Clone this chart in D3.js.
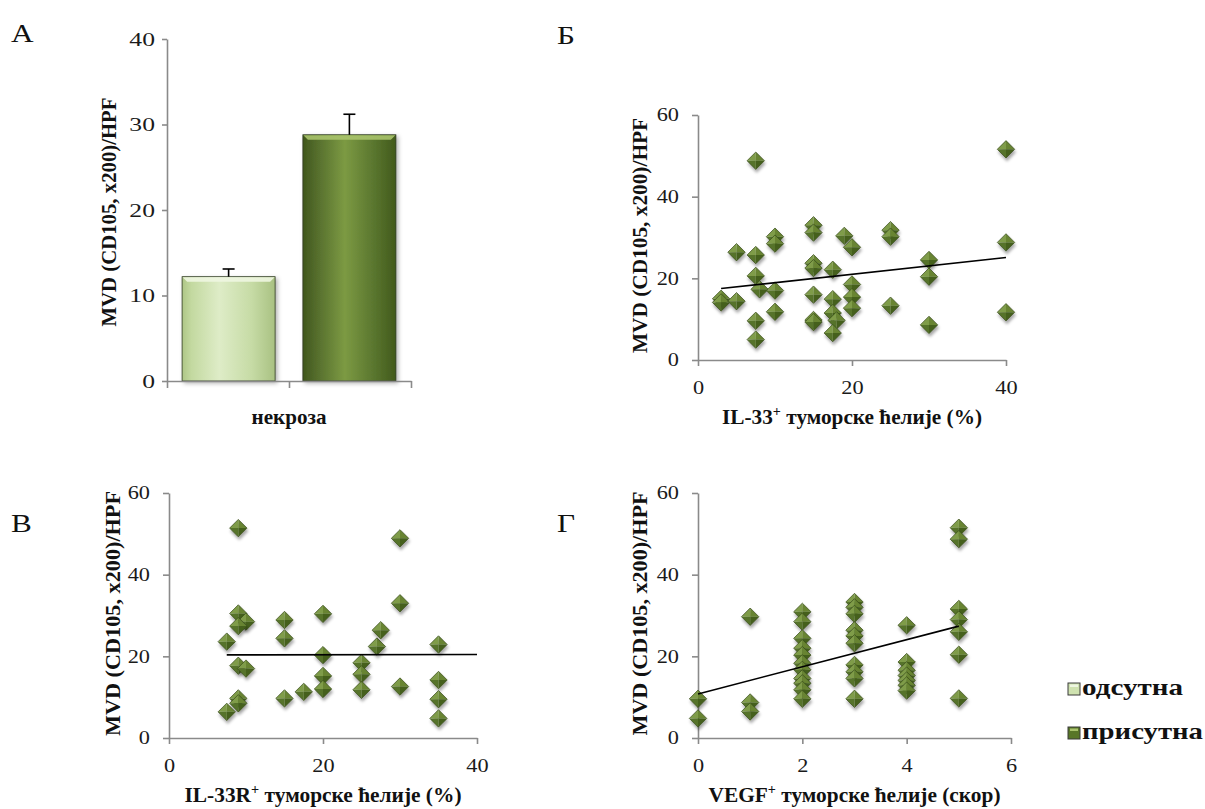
<!DOCTYPE html>
<html>
<head>
<meta charset="utf-8">
<script src="https://cdn.jsdelivr.net/npm/d3@7"></script>
<style>
  body { margin: 0; background: #fff; }
  svg { display: block; font-family: "Liberation Serif", "Times New Roman", serif; }
</style>
</head>
<body>
<svg id="chart" width="1205" height="809"></svg>
<script>
// ---- data ----
const barSeries = ["одсутна", "присутна"]
const barMeans = [12.2, 28.8]
const barErrors = [0.9, 2.4]
const barCategory = "некроза"

// Б: IL-33+ tumour cells (%) vs MVD
const il33Points = [
  [7.5, 48.8], [5, 26.4], [7.5, 25.7], [10, 30.2], [10, 28.5], [15, 33], [15, 31.2], [19, 30.4],
  [20, 27.6], [7.5, 20.6], [8, 17.3], [10, 17], [3, 15], [3, 14.1], [5, 14.4], [7.5, 9.6],
  [7.5, 5], [10, 11.8], [15, 23.7], [15, 22.5], [15, 16], [15, 9.8], [15, 9.3], [17.5, 22.1],
  [17.5, 14.9], [17.5, 11.5], [18, 9.7], [17.5, 6.6], [20, 18.5], [20, 15.4], [20, 12.7],
  [25, 31.8], [25, 30.2], [25, 13.3], [30, 24.5], [30, 20.4], [30, 8.6], [40, 51.6], [40, 28.8], [40, 11.7]
]
const il33Trend = [[3, 17.5], [40, 25.1]]

// В: IL-33R+ tumour cells (%) vs MVD
const il33rPoints = [
  [9, 51.4], [9, 30.5], [10, 28.5], [9, 27.4], [7.5, 23.6], [9, 17.7], [10, 17], [9, 9.7], [9, 8.5],
  [7.5, 6.4], [15, 28.9], [15, 24.4], [15, 9.7], [17.5, 11.3], [20, 30.4], [20, 20.3], [20, 15.2],
  [20, 12], [25, 18.4], [25, 15.6], [25, 11.8], [27, 22.4], [27.5, 26.4], [30, 48.9], [30, 33],
  [30, 12.6], [35, 22.9], [35, 14.2], [35, 9.5], [35, 4.8]
]
const il33rTrend = [[7.5, 20.35], [40, 20.45]]

// Г: VEGF+ tumour cells (score) vs MVD
const vegfPoints = [
  [0, 9.6], [0, 4.8],
  [1, 29.7], [1, 8.7], [1, 6.5],
  [2, 30.9], [2, 28.5], [2, 24.4], [2, 22], [2, 20.3], [2, 18.3], [2, 16.7], [2, 14.6], [2, 13.4], [2, 11.8], [2, 9.6],
  [3, 33.3], [3, 32], [3, 30.4], [3, 26.4], [3, 25], [3, 23.2], [3, 17.9], [3, 16.2], [3, 14.6], [3, 9.6],
  [4, 27.6], [4, 18.6], [4, 16.6], [4, 15.3], [4, 14.1], [4, 12.9], [4, 11.6],
  [5, 51.5], [5, 48.7], [5, 31.6], [5, 29], [5, 26], [5, 20.4], [5, 9.7]
]
const vegfTrend = [[0, 10.8], [5, 27.4]]

const barTicks = [0, 10, 20, 30, 40]
const mvdTicks = [0, 20, 40, 60]
const pctTicks = [0, 20, 40]
const scoreTicks = [0, 2, 4, 6]
const yTitle = "MVD (CD105, x200)/HPF"

// ---- drawing ----
const serif = '"Liberation Serif", "Times New Roman", serif'
const axisGray = "#8a8a8a"
const svg = d3.select("#chart")
const defs = svg.append("defs")

const addGradient = (id, stops) => {
  const g = defs.append("linearGradient").attr("id", id)
    .attr("x1", 0).attr("x2", 1).attr("y1", 0).attr("y2", 0)
  stops.forEach(s => g.append("stop").attr("offset", s[0]).attr("stop-color", s[1]))
}
addGradient("lightBar", [[0, "#aec686"], [0.1, "#c3d9a0"], [0.4, "#deecc7"], [0.75, "#c6dba5"], [1, "#a9c182"]])
addGradient("darkBar", [[0, "#3f561a"], [0.12, "#51692a"], [0.45, "#7c9a43"], [0.78, "#58742d"], [1, "#425a1c"]])

const shadow = defs.append("filter").attr("id", "shadow")
  .attr("x", "-50%").attr("y", "-50%").attr("width", "200%").attr("height", "200%")
shadow.append("feDropShadow").attr("dx", 1).attr("dy", 3).attr("stdDeviation", 1.6)
  .attr("flood-color", "#000").attr("flood-opacity", 0.35)
const barShadow = defs.append("filter").attr("id", "barShadow")
  .attr("x", "-20%").attr("y", "-20%").attr("width", "140%").attr("height", "140%")
barShadow.append("feDropShadow").attr("dx", 2).attr("dy", 2).attr("stdDeviation", 2)
  .attr("flood-color", "#000").attr("flood-opacity", 0.3)

// diamond marker with four facets
const r = 8.7
const diamond = defs.append("g").attr("id", "diamond")
const facets = [
  [[-r, 0], [0, -r], [0, 0], "#7f9c49"],
  [[0, -r], [r, 0], [0, 0], "#678433"],
  [[r, 0], [0, r], [0, 0], "#45601e"],
  [[0, r], [-r, 0], [0, 0], "#56732a"]
]
facets.forEach(f => diamond.append("path")
  .attr("d", `M${f[0]}L${f[1]}L${f[2]}Z`).attr("fill", f[3]))
diamond.append("path").attr("d", `M${-r},0L0,${-r}L${r},0L0,${r}Z`)
  .attr("fill", "none").attr("stroke", "#364a19").attr("stroke-width", 0.7)

const styleAxis = (g, size, sx, isY) => {
  g.attr("font-family", serif).attr("font-size", size)
  g.select(".domain").attr("stroke", axisGray).attr("stroke-width", 1.6)
  g.selectAll(".tick line").attr("stroke", axisGray).attr("stroke-width", 1.6)
  g.selectAll(".tick text").attr("fill", "#1a1a1a").each(function () {
    const t = d3.select(this)
    if (isY) t.attr("x", +t.attr("x") / sx)
    t.attr("transform", `scale(${sx},1)`)
  })
}

const addTitle = (x, y, parts, len, rotate) => {
  const t = svg.append("text")
    .attr("transform", `translate(${x},${y})` + (rotate ? " rotate(-90)" : ""))
    .attr("text-anchor", "middle")
    .attr("font-family", serif).attr("font-weight", "bold").attr("font-size", 21)
    .attr("fill", "#111")
    .attr("textLength", len).attr("lengthAdjust", "spacingAndGlyphs")
  if (rotate) t.attr("dy", "0.35em")
  parts.forEach(p => {
    const s = t.append("tspan").text(p.t)
    if (p.sup) s.attr("font-size", 14).attr("dy", -8)
    if (p.after) s.attr("dy", 8)
  })
}

const addLetter = (txt, x, y) => {
  svg.append("text").attr("x", x / 1.2).attr("y", y)
    .attr("transform", "scale(1.2,1)")
    .attr("font-family", serif).attr("font-size", 26).attr("fill", "#111")
    .text(txt)
}

// ---- panel А: bar chart ----
const yBar = d3.scaleLinear().domain([0, 40]).range([381, 39])
const xBand = d3.scaleBand().domain(barSeries).range([167, 411]).paddingInner(0.23).paddingOuter(0.125)
const xCat = d3.scaleLinear().domain([0, 2]).range([167, 411])
const barFills = ["url(#lightBar)", "url(#darkBar)"]
const bevelFills = ["#eef6e1", "#a9c36c"]

const bars = svg.append("g")
barSeries.forEach((s, i) => {
  const x0 = xBand(s), w = xBand.bandwidth()
  const top = yBar(barMeans[i]), base = yBar(0)
  bars.append("rect").attr("x", x0).attr("y", top).attr("width", w).attr("height", base - top)
    .attr("fill", barFills[i]).attr("stroke", "#2f3a22").attr("stroke-width", 0.8)
    .attr("filter", "url(#barShadow)")
  bars.append("path")
    .attr("d", `M${x0 + 0.5},${top + 0.5}H${x0 + w - 0.5}L${x0 + w - 5},${top + 5}H${x0 + 5}Z`)
    .attr("fill", bevelFills[i]).attr("opacity", 0.9)
  const cx = x0 + w / 2, errTop = yBar(barMeans[i] + barErrors[i])
  bars.append("line").attr("x1", cx).attr("x2", cx).attr("y1", top).attr("y2", errTop)
    .attr("stroke", "#000").attr("stroke-width", 1.6)
  bars.append("line").attr("x1", cx - 6).attr("x2", cx + 6).attr("y1", errTop).attr("y2", errTop)
    .attr("stroke", "#000").attr("stroke-width", 1.6)
})

svg.append("g").attr("transform", "translate(167,0)")
  .call(d3.axisLeft(yBar).tickValues(barTicks).tickFormat(d3.format("d")).tickSize(5).tickPadding(7).tickSizeOuter(0))
  .call(g => styleAxis(g, 19, 1.35, true))
svg.append("g").attr("transform", "translate(0,381)")
  .call(d3.axisBottom(xCat).tickValues([0, 1, 2]).tickSize(7).tickSizeOuter(0).tickFormat(""))
  .call(g => styleAxis(g, 19, 1, false))

addTitle(xCat(1), 424, [{ t: barCategory }], 75, false)
addTitle(109, 212, [{ t: yTitle }], 229, true)
addLetter("А", 11, 42)

// ---- scatter panels ----
const drawScatter = (opt) => {
  const x = d3.scaleLinear().domain(opt.xDomain).range(opt.xRange)
  const y = d3.scaleLinear().domain([0, 60]).range(opt.yRange)
  const g = svg.append("g")
  g.append("g").attr("transform", `translate(0,${opt.yRange[0]})`)
    .call(d3.axisBottom(x).tickValues(opt.xTicks).tickFormat(d3.format("d"))
      .tickSize(6).tickPadding(15).tickSizeOuter(0))
    .call(a => styleAxis(a, 18, 1.24, false))
  g.append("g").attr("transform", `translate(${opt.xRange[0]},0)`)
    .call(d3.axisLeft(y).tickValues(mvdTicks).tickFormat(d3.format("d"))
      .tickSize(6).tickPadding(13).tickSizeOuter(0))
    .call(a => styleAxis(a, 18, 1.24, true))

  g.append("g").selectAll("use")
    .data(opt.points)
    .join("use")
    .attr("href", "#diamond")
    .attr("x", d => x(d[0]))
    .attr("y", d => y(d[1]))
    .attr("filter", "url(#shadow)")

  g.append("path")
    .datum(opt.trend)
    .attr("d", d3.line().x(d => x(d[0])).y(d => y(d[1])))
    .attr("fill", "none").attr("stroke", "#000").attr("stroke-width", 1.6)

  const mid = (opt.xRange[0] + opt.xRange[1]) / 2
  addTitle(mid, opt.titleY, opt.title, opt.titleLen, false)
  addTitle(opt.yTitleX, (opt.yRange[0] + opt.yRange[1]) / 2 - 2, [{ t: yTitle }], opt.yTitleLen, true)
}

drawScatter({
  points: il33Points, trend: il33Trend,
  xDomain: [0, 40], xTicks: pctTicks, xRange: [698, 1006], yRange: [360, 115],
  title: [{ t: "IL-33" }, { t: "+", sup: true }, { t: " туморске ћелије (%)", after: true }],
  titleY: 424, titleLen: 260, yTitleX: 640, yTitleLen: 235
})
drawScatter({
  points: il33rPoints, trend: il33rTrend,
  xDomain: [0, 40], xTicks: pctTicks, xRange: [169, 477], yRange: [738, 493],
  title: [{ t: "IL-33R" }, { t: "+", sup: true }, { t: " туморске ћелије (%)", after: true }],
  titleY: 802, titleLen: 277, yTitleX: 113, yTitleLen: 245
})
drawScatter({
  points: vegfPoints, trend: vegfTrend,
  xDomain: [0, 6], xTicks: scoreTicks, xRange: [698, 1011], yRange: [738, 493],
  title: [{ t: "VEGF" }, { t: "+", sup: true }, { t: " туморске ћелије (скор)", after: true }],
  titleY: 802, titleLen: 292, yTitleX: 640, yTitleLen: 244
})

addLetter("Б", 557, 44)
addLetter("В", 11, 532)
addLetter("Г", 557, 532)

// ---- legend ----
const legendFills = ["#cfe2b0", "#587628"]
const legend = svg.append("g")
barSeries.forEach((s, i) => {
  const ly = 683 + i * 44
  legend.append("rect").attr("x", 1068).attr("y", ly).attr("width", 12).attr("height", 12)
    .attr("fill", legendFills[i]).attr("stroke", "#3a3a3a").attr("stroke-width", 1)
  legend.append("rect").attr("x", 1070).attr("y", ly + 1.5).attr("width", 8).attr("height", 2.5)
    .attr("fill", bevelFills[i])
  legend.append("text").attr("x", 1082).attr("y", ly + 12)
    .attr("font-family", serif).attr("font-weight", "bold").attr("font-size", 24).attr("fill", "#111")
    .attr("textLength", i === 0 ? 101 : 121).attr("lengthAdjust", "spacingAndGlyphs")
    .text(s)
})
</script>
</body>
</html>
